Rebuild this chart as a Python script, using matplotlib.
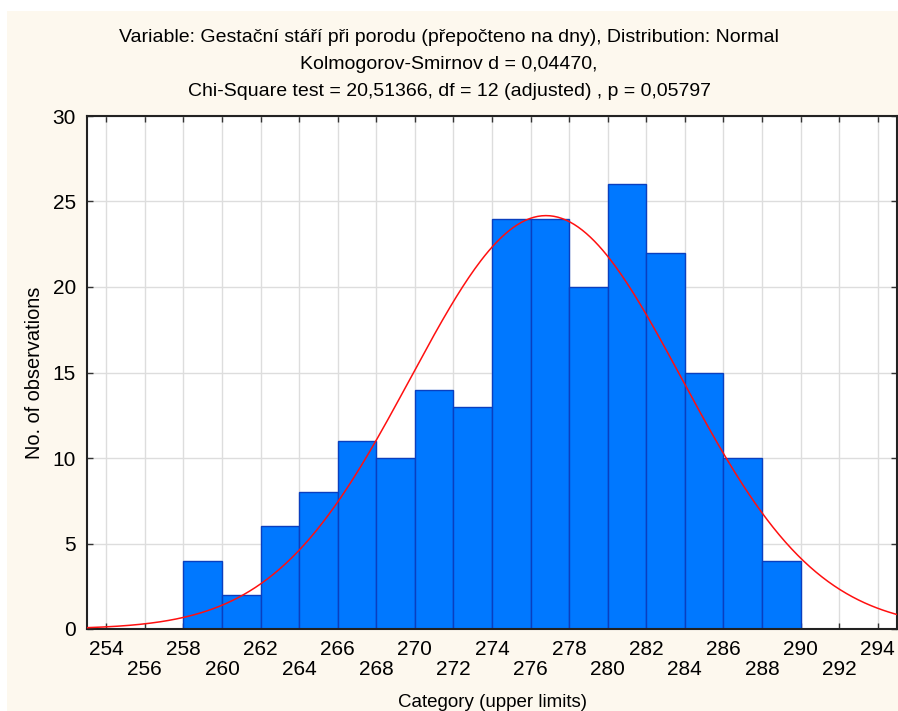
import matplotlib
matplotlib.use("Agg")
import matplotlib.pyplot as plt
import numpy as np
from matplotlib.patches import Rectangle

plt.rcParams["font.family"] = ["Liberation Sans", "DejaVu Sans"]

# histogram: bin edges (upper limits) and counts
bin_lower = [258, 260, 262, 264, 266, 268, 270, 272, 274, 276, 278, 280, 282, 284, 286, 288]
counts = [4, 2, 6, 8, 11, 10, 14, 13, 24, 24, 20, 26, 22, 15, 10, 4]
bin_width = 2

# fitted normal curve parameters
fit_mean = 276.8
fit_sd = 7.03

xticks = list(range(254, 296, 2))
yticks = [0, 5, 10, 15, 20, 25, 30]

title_lines = [
    "Variable: Gestační stáří při porodu (přepočteno na dny), Distribution: Normal",
    "Kolmogorov-Smirnov d = 0,04470,",
    "Chi-Square test = 20,51366, df = 12 (adjusted) , p = 0,05797",
]

fig = plt.figure(figsize=(8.98, 7.11), dpi=100, facecolor="white")
fig.patches.append(Rectangle((7 / 898, 0), 1, (711 - 11) / 711, transform=fig.transFigure,
                             facecolor="#FDF8EE", edgecolor="none", zorder=0))
ax = fig.add_axes([87 / 898, (711 - 629) / 711, 810 / 898, 513 / 711])
ax.set_zorder(2)
ax.set_facecolor("white")

ax.bar(bin_lower, counts, width=bin_width, align="edge", color="#0078FF",
       edgecolor="#0A3FBF", linewidth=1.0, zorder=2)

n_total = sum(counts)
xs = np.linspace(253, 295, 400)
ys = n_total * bin_width * np.exp(-0.5 * ((xs - fit_mean) / fit_sd) ** 2) / (fit_sd * np.sqrt(2 * np.pi))
ax.plot(xs, ys, color="#FF1010", linewidth=1.1, zorder=3)

ax.set_xlim(253, 295)
ax.set_ylim(0, 30)
ax.set_xticks(xticks)
ax.set_xticklabels([str(t) if i % 2 == 0 else "\n" + str(t) for i, t in enumerate(xticks)],
                   fontsize=15, linespacing=1.05)
ax.set_yticks(yticks)
ax.set_yticklabels([str(t) for t in yticks], fontsize=15)
ax.tick_params(axis="both", direction="in", length=4, width=1, color="#333333",
               top=True, right=True, pad=8)
ax.grid(True, color="#DDDDDD", linewidth=1.0, zorder=0)
ax.set_axisbelow(True)
for s in ax.spines.values():
    s.set_color("#222222")
    s.set_linewidth(1.5)

ax.set_xlabel("Category (upper limits)", fontsize=13.5, labelpad=11)
ax.set_ylabel("No. of observations", fontsize=14.4, labelpad=6)

for i, line in enumerate(title_lines):
    fig.text(0.5, 1 - (37 + 27.5 * i) / 711, line, ha="center", va="center", fontsize=14)

fig.savefig("out.png", dpi=100, facecolor=fig.get_facecolor())
